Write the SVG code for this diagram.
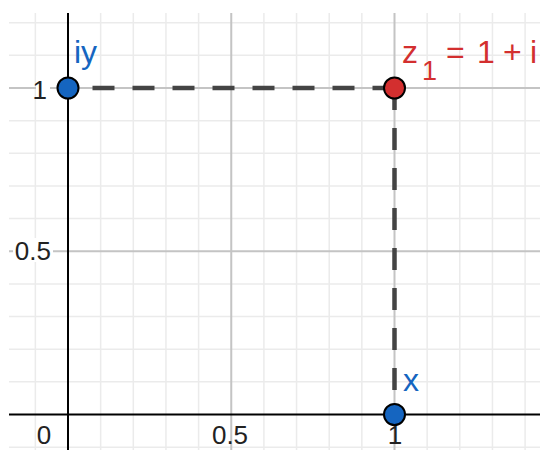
<svg xmlns="http://www.w3.org/2000/svg" width="540" height="450" viewBox="0 0 540 450">
<style>
.minor{stroke:#ebebeb;stroke-width:1.5;fill:none}
.major{stroke:#c4c4c4;stroke-width:2;fill:none}
.axis{stroke:#000;stroke-width:2;fill:none}
.tick{font-family:"Liberation Sans",Arial,sans-serif;font-size:26px;fill:#222}
.dash{stroke:#444;stroke-width:4.5;stroke-dasharray:22 18;fill:none}
.pt{stroke:#000;stroke-width:2}
.blue{fill:#1565c0}
.red{fill:#d32f2f}
.lbl{font-family:"Liberation Sans",Arial,sans-serif;font-size:32px}
</style>
<rect width="540" height="450" fill="#fff"/>
<g id="grid">
<path class="minor" d="M35.35 13V450M100.65 13V450M133.3 13V450M165.95 13V450M198.6 13V450M263.9 13V450M296.55 13V450M329.2 13V450M361.85 13V450M427.15 13V450M459.8 13V450M492.45 13V450M525.1 13V450"/>
<path class="minor" d="M9 447.15H540M9 381.85H540M9 349.2H540M9 316.55H540M9 283.9H540M9 218.6H540M9 185.95H540M9 153.3H540M9 120.65H540M9 55.35H540M9 22.7H540"/>
<path class="major" d="M231.25 13V450M394.5 13V450M9 251.25H540M9 88H540"/>
</g>
<g id="axes">
<path class="axis" d="M9 414.5H540M68 13V450"/>
<rect x="13" y="238" width="40" height="24" fill="#fff"/>
<rect x="36" y="76" width="14" height="24" fill="#fff"/>
<text class="tick" x="51" y="260" text-anchor="end">0.5</text>
<text class="tick" x="47" y="99" text-anchor="end">1</text>
<text class="tick" x="44" y="444" text-anchor="middle">0</text>
<text class="tick" x="230" y="444" text-anchor="middle">0.5</text>
<text class="tick" x="395" y="444" text-anchor="middle">1</text>
</g>
<g id="connectors">
<path class="dash" d="M394.5 88H68"/>
<path class="dash" d="M394.5 88V414.5"/>
</g>
<g id="iy">
<circle class="pt blue" cx="68" cy="88" r="10.5"/>
<text class="lbl blue" x="74" y="63">iy</text>
</g>
<g id="z1">
<circle class="pt red" cx="394.5" cy="88" r="10.5"/>
<text class="lbl red" x="402" y="63">z<tspan x="422" font-size="27" dy="17">1</tspan><tspan x="446" dy="-17">=</tspan><tspan x="477">1</tspan><tspan x="503">+</tspan><tspan x="530">i</tspan></text>
</g>
<g id="x">
<circle class="pt blue" cx="394.5" cy="414.5" r="10.5"/>
<text class="lbl blue" x="403" y="391">x</text>
</g>
</svg>
